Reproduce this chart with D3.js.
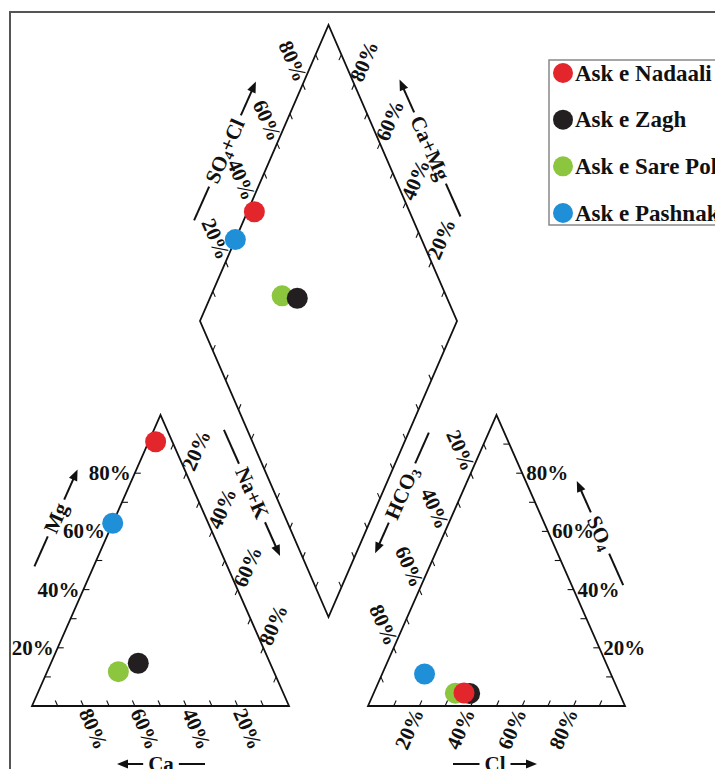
<!DOCTYPE html>
<html><head><meta charset="utf-8">
<script src="https://cdn.jsdelivr.net/npm/d3@7"></script>
<style>
body{margin:0;background:#fff;}
text{font-family:"Liberation Serif","Times New Roman",serif;font-weight:bold;fill:#111;}
</style>
</head><body>
<svg id="chart" width="715" height="769"></svg>
<script>
// ---- data ----
const samples = ["Ask e Nadaali", "Ask e Zagh", "Ask e Sare Pol", "Ask e Pashnak"];
const colors  = ["#e3262b", "#231f20", "#8cc63f", "#1f8fd8"];
// cations (% meq)
const caPct   = [6.5, 51.3, 60.5, 37.2];
const mgPct   = [90.8, 14.7, 11.8, 62.8];
const naKPct  = [2.7, 34.0, 27.7, 0.0];
// anions (% meq)
const hco3Pct = [60.4, 58.3, 63.8, 72.5];
const so4Pct  = [4.5, 4.3, 4.4, 11.0];
const clPct   = [35.1, 37.4, 31.8, 16.5];
const tickValues  = [10, 20, 30, 40, 50, 60, 70, 80, 90];
const labelValues = [20, 40, 60, 80];
const labelText = v => v + "%";

// ---- layout scales ----
const svg = d3.select("#chart");
const yTri   = d3.scaleLinear().domain([0, 100]).range([706, 415]);
const xLeft  = d3.scaleLinear().domain([0, 100]).range([32, 289]);
const xRight = d3.scaleLinear().domain([0, 100]).range([368, 625]);
const dX = d3.scaleLinear().domain([-100, 100]).range([200, 457]);
const dY = d3.scaleLinear().domain([0, 200]).range([617, 25]);

const cat = (ca, mg, na) => [xLeft(na + mg / 2), yTri(mg)];
const an  = (hc, so, cl) => [xRight(cl + so / 2), yTri(so)];
const dia = (u, v) => [dX(u - v), dY(u + v)];

// frame
svg.append("rect").attr("x", 10).attr("y", 12).attr("width", 800).attr("height", 800)
  .attr("fill", "none").attr("stroke", "#555").attr("stroke-width", 2);

const line = d3.line();
const edgeStyle = sel => sel.attr("fill", "none").attr("stroke", "#111").attr("stroke-width", 1.8).attr("stroke-linejoin", "miter");

// shapes
svg.append("path").attr("d", line([cat(100,0,0), cat(0,100,0), cat(0,0,100)]) + "Z").call(edgeStyle);
svg.append("path").attr("d", line([an(100,0,0), an(0,100,0), an(0,0,100)]) + "Z").call(edgeStyle);
svg.append("path").attr("d", line([dia(0,0), dia(0,100), dia(100,100), dia(100,0)]) + "Z").call(edgeStyle);

const TICK = 6, GAP = 4;
function norm(p, q, len) {
  const dx = q[0] - p[0], dy = q[1] - p[1], l = Math.hypot(dx, dy);
  return [dx / l * len, dy / l * len];
}
// fn(t, d) gives point for value t with offset d (positive = inward)
function axisTicks(fn, withLabels) {
  tickValues.forEach(t => {
    const p = fn(t, 0), q = fn(t, 1);
    const d = norm(p, q, TICK);
    svg.append("line").attr("x1", p[0]).attr("y1", p[1]).attr("x2", p[0] + d[0]).attr("y2", p[1] + d[1])
      .attr("stroke", "#111").attr("stroke-width", 1.1);
  });
  if (!withLabels) return;
  labelValues.forEach(t => {
    const p = fn(t, 0), q = fn(t, -1);
    const d = norm(p, q, GAP);
    const x = p[0] + d[0], y = p[1] + d[1];
    let ang = Math.atan2(d[1], d[0]) * 180 / Math.PI, anchor = "start";
    if (d[0] < -0.01) { ang += 180; anchor = "end"; }
    svg.append("text").attr("x", x).attr("y", y).attr("text-anchor", anchor)
      .attr("dominant-baseline", "central").attr("transform", `rotate(${ang},${x},${y})`)
      .style("font-size", "21px").text(labelText(t));
  });
}
// cation triangle
axisTicks((t, d) => cat(t, d, 100 - t - d), true);        // Ca on base
axisTicks((t, d) => cat(100 - t - d, t, d), true);        // Mg on left edge
axisTicks((t, d) => cat(d, 100 - t - d, t), true);        // Na+K on right edge
// anion triangle
axisTicks((t, d) => an(100 - t - d, d, t), true);         // Cl on base
axisTicks((t, d) => an(d, t, 100 - t - d), true);         // SO4 on right edge
axisTicks((t, d) => an(t, 100 - t - d, d), true);         // HCO3 on left edge
// diamond
axisTicks((t, d) => dia(t, 100 - d), true);               // SO4+Cl upper-left
axisTicks((t, d) => dia(100 - d, t), true);               // Ca+Mg upper-right
axisTicks((t, d) => dia(d, t), false);                    // lower-left
axisTicks((t, d) => dia(t, d), false);                    // lower-right

// axis titles
function axisTitle(cx, cy, angle, parts, L, arrowAtEnd) {
  const g = svg.append("g").attr("transform", `translate(${cx},${cy}) rotate(${angle})`);
  const t = g.append("text").attr("x", 0).attr("y", 0).attr("text-anchor", "middle")
    .attr("dominant-baseline", "central").style("font-size", "21px");
  parts.forEach(p => {
    const ts = t.append("tspan").text(p.t);
    if (p.sub) ts.style("font-size", "14px").attr("dy", 5);
    if (p.after) ts.attr("dy", -5);
  });
  const w = t.node().getComputedTextLength();
  const e = w / 2 + 5;
  const sgn = arrowAtEnd ? 1 : -1;
  g.append("line").attr("x1", -sgn * e).attr("y1", 0).attr("x2", -sgn * L).attr("y2", 0)
    .attr("stroke", "#111").attr("stroke-width", 2);
  g.append("line").attr("x1", sgn * e).attr("y1", 0).attr("x2", sgn * (L - 8)).attr("y2", 0)
    .attr("stroke", "#111").attr("stroke-width", 2);
  g.append("path").attr("d", `M${sgn * L},0 L${sgn * (L - 11)},-4.5 L${sgn * (L - 11)},4.5 Z`).attr("fill", "#111");
}
axisTitle(225, 151, -66, [{t: "SO"}, {t: "4", sub: true}, {t: "+Cl", after: true}], 76, true);
axisTitle(430, 148, 66, [{t: "Ca+Mg"}], 75, false);
axisTitle(252, 493, 66, [{t: "Na+K"}], 69, true);
axisTitle(402, 493, -66, [{t: "HCO"}, {t: "3", sub: true}], 66, false);
axisTitle(56, 518, -66, [{t: "Mg"}], 53, true);
axisTitle(600, 533, 66, [{t: "SO"}, {t: "4", sub: true}], 57, false);
axisTitle(161, 764, 0, [{t: "Ca"}], 44, false);
axisTitle(495, 764, 0, [{t: "Cl"}], 42, true);

// points (draw in reverse legend order)
const R = 10.5;
const order = d3.range(samples.length).reverse();
order.forEach(i => {
  const pts = [
    cat(caPct[i], mgPct[i], naKPct[i]),
    an(hco3Pct[i], so4Pct[i], clPct[i]),
    dia(so4Pct[i] + clPct[i], caPct[i] + mgPct[i])
  ];
  pts.forEach(p => svg.append("circle").attr("cx", p[0]).attr("cy", p[1]).attr("r", R).attr("fill", colors[i]));
});

// legend
const lg = svg.append("g");
lg.append("rect").attr("x", 549).attr("y", 60).attr("width", 300).attr("height", 165)
  .attr("fill", "#fff").attr("stroke", "#888").attr("stroke-width", 1.5);
const ly = d3.scalePoint().domain(samples).range([73, 213]);
samples.forEach((s, i) => {
  lg.append("circle").attr("cx", 563).attr("cy", ly(s)).attr("r", 10).attr("fill", colors[i]);
  lg.append("text").attr("x", 575).attr("y", ly(s)).attr("dominant-baseline", "central")
    .style("font-size", "23px").text(s);
});
</script>
</body></html>
